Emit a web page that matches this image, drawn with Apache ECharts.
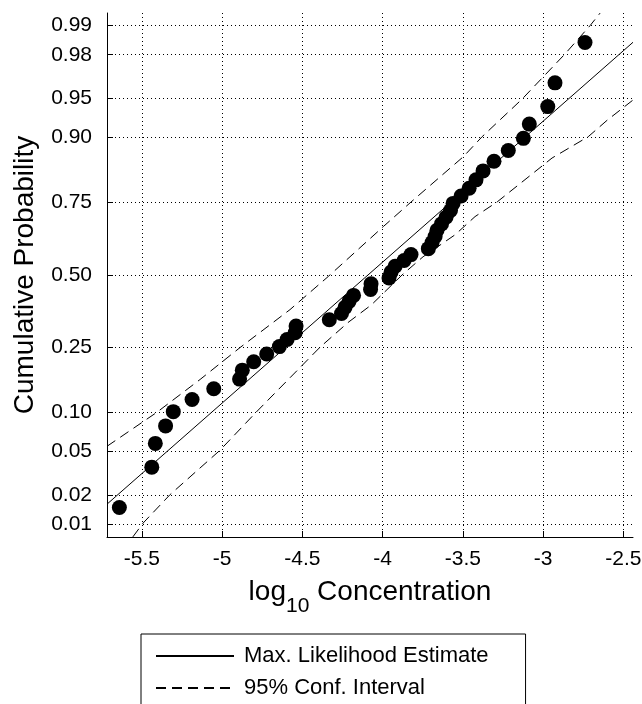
<!DOCTYPE html>
<html><head><meta charset="utf-8">
<script src="https://cdn.jsdelivr.net/npm/echarts@6/dist/echarts.min.js"></script>
<style>html,body{margin:0;padding:0;background:#fff}#c{width:642px;height:704px}</style>
</head><body><div id="c"></div>
<script>
const FONT = '"Liberation Sans", Arial, sans-serif';

// x ticks (log10 concentration)
const xTickValues = [-5.5, -5, -4.5, -4, -3.5, -3, -2.5];
// y ticks (cumulative probability, probit scale)
const yTickProbs = [0.01, 0.02, 0.05, 0.10, 0.25, 0.50, 0.75, 0.90, 0.95, 0.98, 0.99];
const yTickLabels = ['0.01', '0.02', '0.05', '0.10', '0.25', '0.50', '0.75', '0.90', '0.95', '0.98', '0.99'];

// observations
const concentration = [-5.640, -5.438, -5.416, -5.352, -5.304, -5.187, -5.052, -4.891, -4.874, -4.803,
  -4.722, -4.643, -4.595, -4.545, -4.539, -4.332, -4.256, -4.234, -4.209, -4.181,
  -4.075, -4.072, -3.960, -3.947, -3.922, -3.866, -3.823, -3.715, -3.692, -3.673,
  -3.661, -3.633, -3.605, -3.577, -3.561, -3.511, -3.461, -3.418, -3.374, -3.306,
  -3.217, -3.123, -3.086, -2.971, -2.926, -2.739];
const cumProb = [0.0151, 0.0366, 0.0582, 0.0797, 0.1013, 0.1228, 0.1444, 0.1659, 0.1875, 0.2091,
  0.2306, 0.2522, 0.2737, 0.2953, 0.3168, 0.3384, 0.3599, 0.3815, 0.4030, 0.4246,
  0.4461, 0.4677, 0.4892, 0.5108, 0.5323, 0.5539, 0.5754, 0.5970, 0.6185, 0.6401,
  0.6616, 0.6832, 0.7047, 0.7263, 0.7478, 0.7694, 0.7909, 0.8125, 0.8341, 0.8556,
  0.8772, 0.8987, 0.9203, 0.9418, 0.9634, 0.9849];

// maximum likelihood line (end points)
const mleX = [-5.717, -2.44];
const mleP = [0.0163, 0.985];

// 95% confidence interval bands
const ciUpperX = [-5.717, -5.407, -5.137, -4.888, -4.577, -4.338, -3.995, -3.829, -3.497, -3.380, -3.131, -2.863, -2.707, -2.645];
const ciUpperP = [0.0551, 0.1001, 0.165, 0.2494, 0.3734, 0.4948, 0.6744, 0.7494, 0.865, 0.9014, 0.9495, 0.9804, 0.990, 0.9927];
const ciLowerX = [-5.556, -5.4925, -5.324, -5.013, -4.789, -4.390, -4.216, -4.068, -3.879, -3.748, -3.549, -3.424, -3.286, -2.944, -2.719, -2.600, -2.440];
const ciLowerP = [0.0073, 0.01034, 0.0203, 0.0511, 0.1001, 0.2503, 0.3286, 0.3912, 0.5, 0.5675, 0.646, 0.707, 0.7523, 0.8624, 0.9014, 0.9257, 0.9486];

// probit transform (inverse standard normal CDF)
function norminv(p) {
  const a = [-3.969683028665376e+01, 2.209460984245205e+02, -2.759285104469687e+02, 1.383577518672690e+02, -3.066479806614716e+01, 2.506628277459239e+00];
  const b = [-5.447609879822406e+01, 1.615858368580409e+02, -1.556989798598866e+02, 6.680131188771972e+01, -1.328068155288572e+01];
  const c = [-7.784894002430293e-03, -3.223964580411365e-01, -2.400758277161838e+00, -2.549732539343734e+00, 4.374664141464968e+00, 2.938163982698783e+00];
  const d = [7.784695709041462e-03, 3.224671290700398e-01, 2.445134137142996e+00, 3.754408661907416e+00];
  const pl = 0.02425, ph = 1 - pl;
  let q, r;
  if (p < pl) {
    q = Math.sqrt(-2 * Math.log(p));
    return (((((c[0]*q+c[1])*q+c[2])*q+c[3])*q+c[4])*q+c[5]) / ((((d[0]*q+d[1])*q+d[2])*q+d[3])*q+1);
  }
  if (p <= ph) {
    q = p - 0.5; r = q * q;
    return (((((a[0]*r+a[1])*r+a[2])*r+a[3])*r+a[4])*r+a[5])*q / (((((b[0]*r+b[1])*r+b[2])*r+b[3])*r+b[4])*r+1);
  }
  q = Math.sqrt(-2 * Math.log(1 - p));
  return -(((((c[0]*q+c[1])*q+c[2])*q+c[3])*q+c[4])*q+c[5]) / ((((d[0]*q+d[1])*q+d[2])*q+d[3])*q+1);
}

const yTickZ = yTickProbs.map(norminv);
const pairs = (xs, ps) => xs.map((x, i) => [x, norminv(ps[i])]);

const chart = echarts.init(document.getElementById('c'), null, { renderer: 'canvas' });
const gridLine = { show: true, lineStyle: { color: '#000', width: 1, type: [1, 3] } };

chart.setOption({
  animation: false,
  backgroundColor: '#fff',
  grid: { left: 107, right: 9, top: 13, bottom: 167, containLabel: false, outerBoundsMode: 'none' },
  xAxis: {
    type: 'value', min: -5.717, max: -2.44,
    axisLine: { show: true, onZero: false, lineStyle: { color: '#000', width: 1 } },
    axisTick: { show: true, inside: true, length: 6, customValues: xTickValues, lineStyle: { color: '#000' } },
    axisLabel: { customValues: xTickValues, color: '#000', fontSize: 21, fontFamily: FONT, margin: 12,
      formatter: v => String(v) },
    splitLine: gridLine,
    name: '{a|log}{s|10}{a| Concentration}',
    nameLocation: 'middle', nameGap: 41,
    nameTextStyle: {
      color: '#000', fontFamily: FONT, fontSize: 28,
      rich: {
        a: { fontSize: 28, fontFamily: FONT, color: '#000', verticalAlign: 'top' },
        s: { fontSize: 21, fontFamily: FONT, color: '#000', verticalAlign: 'top', padding: [18, 0, 0, 0] }
      }
    }
  },
  yAxis: {
    type: 'value', min: -2.443, max: 2.443,
    axisLine: { show: true, onZero: false, lineStyle: { color: '#000', width: 1 } },
    axisTick: { show: true, inside: true, length: 6, customValues: yTickZ, lineStyle: { color: '#000' } },
    axisLabel: { customValues: yTickZ, color: '#000', fontSize: 21, fontFamily: FONT, margin: 15,
      formatter: v => { const i = yTickZ.findIndex(z => Math.abs(z - v) < 1e-6); return i >= 0 ? yTickLabels[i] : ''; } },
    splitLine: gridLine,
    name: 'Cumulative Probability',
    nameLocation: 'middle', nameGap: 68,
    nameTextStyle: { color: '#000', fontFamily: FONT, fontSize: 28 }
  },
  legend: {
    show: true, data: ['Max. Likelihood Estimate', '95% Conf. Interval'],
    orient: 'vertical', left: 141, top: 634, height: 100, width: 400,
    itemWidth: 78, itemHeight: 14, itemGap: 10,
    padding: [11, 37, 12, 14],
    borderColor: '#000', borderWidth: 1, borderRadius: 0, backgroundColor: '#fff',
    selectedMode: false,
    itemStyle: { opacity: 0 },
    textStyle: { fontSize: 22, fontFamily: FONT, color: '#000', lineHeight: 22, padding: [0, 0, 0, 5] }
  },
  series: [
    { name: 'Max. Likelihood Estimate', type: 'line', data: pairs(mleX, mleP), symbol: 'none',
      lineStyle: { color: '#000', width: 1 }, itemStyle: { color: '#000' }, z: 3 },
    { name: '95% Conf. Interval', type: 'line', data: pairs(ciUpperX, ciUpperP), symbol: 'none',
      lineStyle: { color: '#000', width: 1, type: [10, 6] }, itemStyle: { color: '#000' }, z: 3 },
    { name: '95% Conf. Interval', type: 'line', data: pairs(ciLowerX, ciLowerP), symbol: 'none',
      lineStyle: { color: '#000', width: 1, type: [10, 6] }, itemStyle: { color: '#000' }, z: 3 },
    { name: 'Data', type: 'scatter', data: pairs(concentration, cumProb), symbol: 'circle', symbolSize: 15,
      itemStyle: { color: '#000', opacity: 1 }, z: 4 }
  ]
});
</script></body></html>
